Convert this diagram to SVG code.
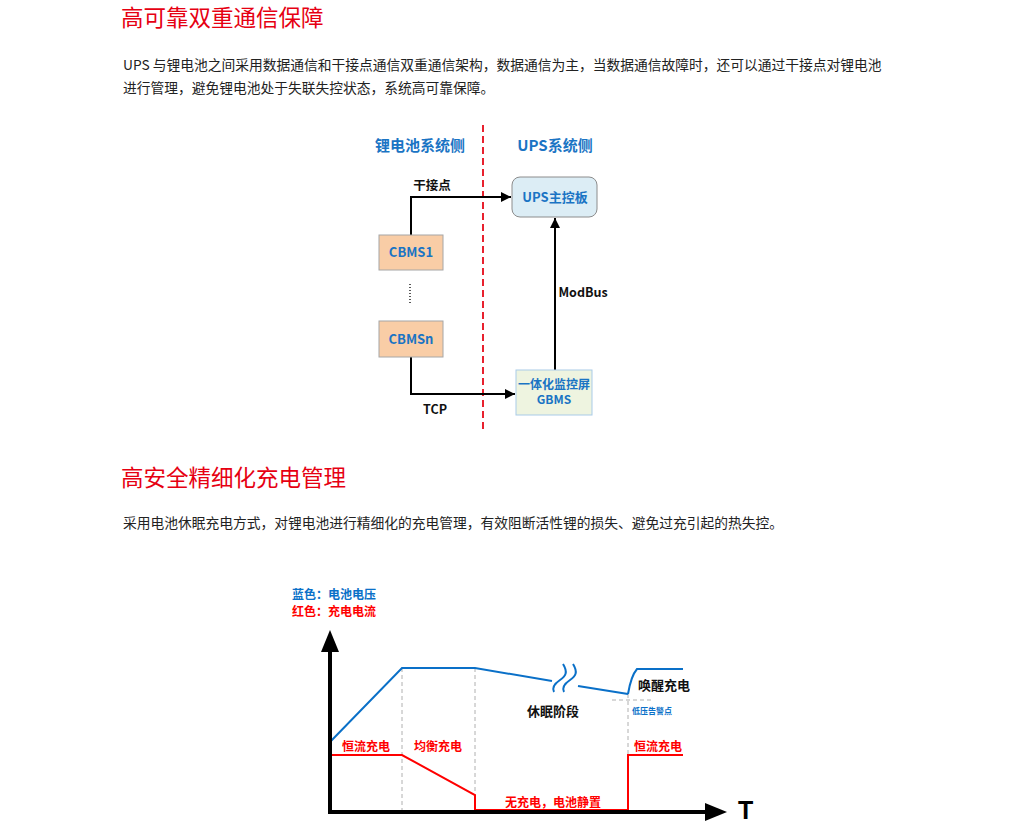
<svg xmlns="http://www.w3.org/2000/svg" width="1022" height="822" viewBox="0 0 1022 822">
<defs>
<style>
.title{font-family:"Noto Sans CJK SC","Noto Sans",sans-serif;font-size:22.5px;fill:#e60012;font-weight:400}
.para{font-family:"Noto Sans CJK SC","Noto Sans",sans-serif;font-size:13.75px;fill:#222}
.hdr{font-family:"Noto Sans CJK SC","Noto Sans",sans-serif;font-size:15px;font-weight:700;fill:#1a74c4;text-anchor:middle}
.bx{font-family:"Noto Sans CJK SC","Noto Sans",sans-serif;font-size:13px;font-weight:700;fill:#1a74c4;text-anchor:middle}
.lbl{font-family:"Noto Sans CJK SC","Noto Sans",sans-serif;font-size:12.5px;font-weight:700;fill:#111;text-anchor:middle}
.rl{font-family:"Noto Sans CJK SC","Noto Sans",sans-serif;font-size:12px;font-weight:700;fill:#ff0000;text-anchor:middle}
.lg{font-family:"Noto Sans CJK SC","Noto Sans",sans-serif;font-size:12px;font-weight:700}
.conn{fill:none;stroke:#000;stroke-width:2}
.gd{stroke:#b0b0b0;stroke-width:1;stroke-dasharray:4 3;fill:none}
.bl{fill:none;stroke:#0a70c8;stroke-width:2}
.rd{fill:none;stroke:#ff0000;stroke-width:2}
</style>
<marker id="ah" viewBox="0 0 10 10" refX="10" refY="5" markerWidth="5" markerHeight="5" orient="auto" markerUnits="strokeWidth">
<path d="M0,0 L10,5 L0,10 Z" fill="#000"/>
</marker>
</defs>
<rect width="1022" height="822" fill="#fff"/>

<text class="title" x="121" y="26">高可靠双重通信保障</text>
<text class="para" x="123" y="70">UPS 与锂电池之间采用数据通信和干接点通信双重通信架构，数据通信为主，当数据通信故障时，还可以通过干接点对锂电池</text>
<text class="para" x="123" y="93">进行管理，避免锂电池处于失联失控状态，系统高可靠保障。</text>

<!-- diagram 1 -->
<line x1="483" y1="125" x2="483" y2="430" stroke="#e8212e" stroke-width="2" stroke-dasharray="7 4"/>
<text class="hdr" x="420" y="151">锂电池系统侧</text>
<text class="hdr" x="555" y="151">UPS系统侧</text>

<g id="connectors">
<polyline class="conn" points="411,235 411,197 511,197" marker-end="url(#ah)"/>
<polyline class="conn" points="411,357 411,394 515,394" marker-end="url(#ah)"/>
<line class="conn" x1="555" y1="370" x2="555" y2="218" marker-end="url(#ah)"/>
<line x1="410" y1="284" x2="410" y2="303" stroke="#222" stroke-width="1.5" stroke-dasharray="1 2"/>
<text class="lbl" x="432" y="190">干接点</text>
<text class="lbl" x="583" y="297">ModBus</text>
<text class="lbl" x="435" y="414">TCP</text>
</g>

<g id="ups">
<rect x="512" y="177" width="85" height="40" rx="8" fill="#dcedf5" stroke="#8c8c8c" stroke-width="1"/>
<text class="bx" x="555" y="202">UPS主控板</text>
</g>
<g id="cbms1">
<rect x="379" y="235" width="64" height="35" fill="#f9cda6" stroke="#a6a6a6" stroke-width="1"/>
<text class="bx" x="411" y="257">CBMS1</text>
</g>
<g id="cbmsn">
<rect x="379" y="321" width="64" height="36" fill="#f9cda6" stroke="#a6a6a6" stroke-width="1"/>
<text class="bx" x="411" y="344">CBMSn</text>
</g>
<g id="gbms">
<rect x="516" y="370" width="76" height="45" fill="#eef4e0" stroke="#a9cbe8" stroke-width="1"/>
<text class="bx" x="554" y="389" style="font-size:12px">一体化监控屏</text>
<text class="bx" x="554" y="404" style="font-size:12px">GBMS</text>
</g>

<text class="title" x="121" y="486">高安全精细化充电管理</text>
<text class="para" x="123" y="528">采用电池休眠充电方式，对锂电池进行精细化的充电管理，有效阻断活性锂的损失、避免过充引起的热失控。</text>

<!-- chart -->
<g id="chart">
<text class="lg" x="292" y="599" fill="#0a70c8">蓝色：电池电压</text>
<text class="lg" x="292" y="616" fill="#ff0000">红色：充电电流</text>

<line class="gd" x1="402" y1="668" x2="402" y2="810"/>
<line class="gd" x1="475" y1="668" x2="475" y2="795"/>
<line class="gd" x1="628" y1="694" x2="628" y2="755"/>
<line class="gd" x1="612" y1="700" x2="654" y2="700"/>

<polyline class="bl" points="330,742 402,668 475,668 552,681"/>
<polyline class="bl" points="578,686 628,694"/>
<path class="bl" d="M628,694 Q631,676 637,669 L683,669"/>
<path class="bl" d="M563,664 C568,672 566,676 560,680 C554,684 552,688 554,692"/>
<path class="bl" d="M573,664 C578,672 576,676 570,680 C564,684 562,688 564,692"/>

<polyline class="rd" points="330,755 402,755 475,795 475,810 628,810 628,755 683,755"/>

<line x1="330" y1="648" x2="330" y2="812" stroke="#000" stroke-width="4"/>
<polygon points="330,630 321,652 339,652" fill="#000"/>
<line x1="328" y1="812" x2="708" y2="812" stroke="#000" stroke-width="4"/>
<polygon points="727,812 705,803 705,821" fill="#000"/>
<text x="738" y="819" style="font-family:'Liberation Sans',sans-serif;font-size:25px;font-weight:700;fill:#000">T</text>

<text class="rl" x="366" y="751">恒流充电</text>
<text class="rl" x="438" y="751">均衡充电</text>
<text class="rl" x="553" y="807">无充电，电池静置</text>
<text class="rl" x="658" y="751">恒流充电</text>
<text class="lbl" x="553" y="716" style="font-size:13px">休眠阶段</text>
<text class="lbl" x="664" y="690" style="font-size:13px">唤醒充电</text>
<text x="652" y="714" text-anchor="middle" style="font-family:'Noto Sans CJK SC',sans-serif;font-size:8px;font-weight:700;fill:#0a70c8">低压告警点</text>
</g>
</svg>
